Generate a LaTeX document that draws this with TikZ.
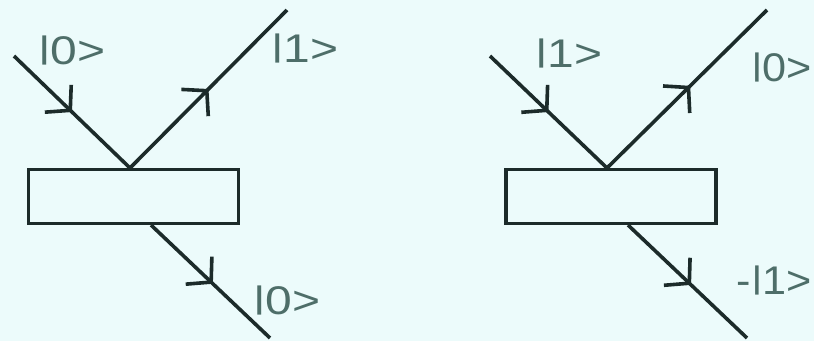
\documentclass[tikz,border=0pt]{standalone}
\usepackage{fontspec}
\setmainfont{Liberation Sans}
\usetikzlibrary{arrows.meta,decorations.markings}
\definecolor{bgc}{HTML}{ECFBFB}
\definecolor{linec}{HTML}{1C2B2A}
\definecolor{textc}{HTML}{4E6E69}
\newcommand{\kbar}{\raisebox{0.15em}{\scalebox{1}[0.78]{|}}}
\newcommand{\ketlabel}[1]{\scalebox{1.2}[1]{#1}}
\newcommand{\ketnarrow}[1]{\scalebox{1.08}[1]{#1}}
\tikzset{
  beam/.style={draw=linec, line width=3.6pt,
    postaction={decorate, decoration={markings,
      mark=at position #1 with {\arrow{Straight Barb[length=17pt,width=38pt]}}}}},
  beam/.default=0.5,
  splitter/.style={draw=linec, line width=3.6pt, fill=bgc, rectangle,
    minimum width=210pt, minimum height=54pt, inner sep=0pt},
  ket/.style={text=textc, font=\fontsize{40}{42}\selectfont, inner sep=0pt},
}
\begin{document}
\begin{tikzpicture}[x=1pt,y=-1pt]
\fill[bgc] (0,0) rectangle (814,341);
\useasboundingbox (0,0) rectangle (814,341);

% left panel
\node[splitter] (boxL) at (133.5,196.5) {};
\coordinate (inL) at (14,56);
\coordinate (hitL) at (130,168);
\coordinate (upL) at (287,10);
\coordinate (outL) at (151,225);
\coordinate (endL) at (270,338);
\draw[beam=0.5] (inL) -- (hitL);
\draw[beam=0.5] (hitL) -- (upL);
\draw[beam=0.52] (outL) -- (endL);
\node[ket, anchor=base west] (k1) at (38,64) {\ketlabel{\kbar0>}};
\node[ket, anchor=base west] (k2) at (271,62) {\ketlabel{\kbar1>}};
\node[ket, anchor=base west] (k3) at (253,314) {\ketlabel{\kbar0>}};

% right panel
\node[splitter] (boxR) at (611,196.5) {};
\coordinate (inR) at (490,56);
\coordinate (hitR) at (607,168);
\coordinate (upR) at (767,10);
\coordinate (outR) at (628,225);
\coordinate (endR) at (747,338);
\draw[beam=0.5] (inR) -- (hitR);
\draw[beam=0.52] (hitR) -- (upR);
\draw[beam=0.53] (outR) -- (endR);
\node[ket, anchor=base west] (k4) at (535,67) {\ketlabel{\kbar1>}};
\node[ket, anchor=base east] (k5) at (812,81) {\ketnarrow{\kbar0>}};
\node[ket, anchor=base east] (k6) at (812,294) {\ketnarrow{-\kbar1>}};
\end{tikzpicture}
\end{document}
